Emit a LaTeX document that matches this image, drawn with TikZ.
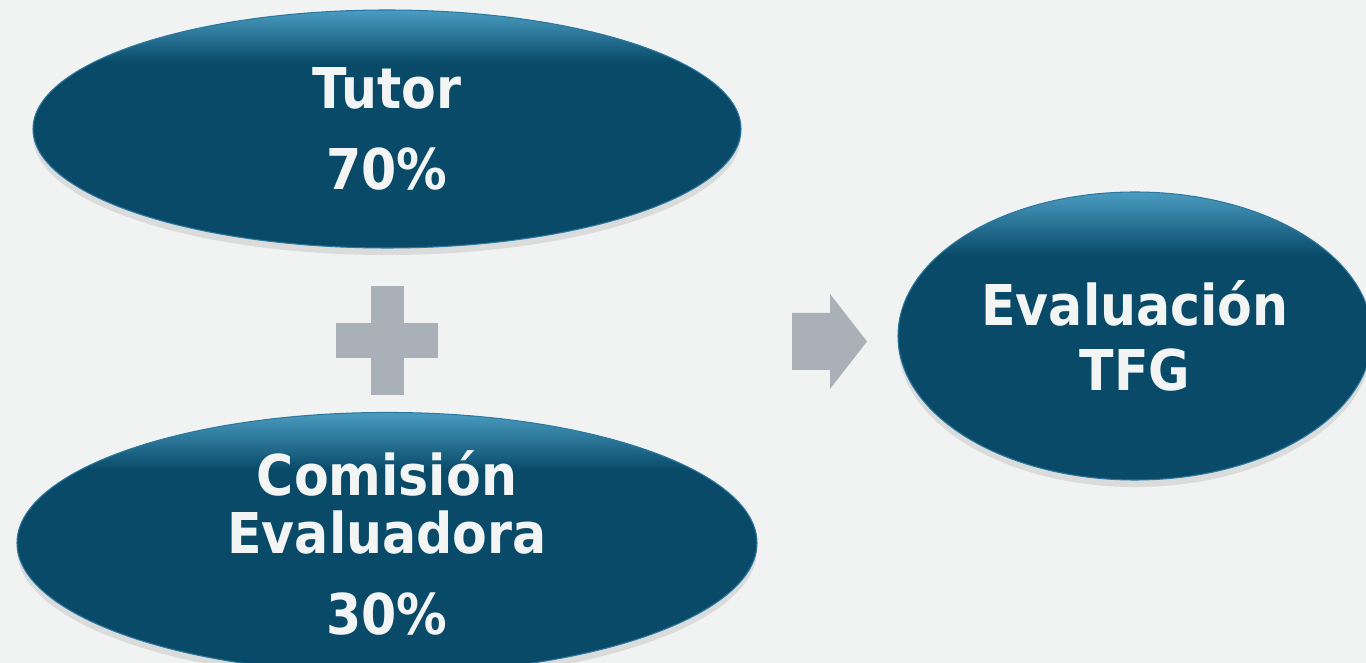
\documentclass[tikz,border=0pt]{standalone}
\usepackage{fontspec}
\setmainfont{DejaVu Sans Condensed}
\usetikzlibrary{shadows, shapes.geometric}

\definecolor{fondo}{HTML}{F1F3F2}
\definecolor{azuloscuro}{HTML}{084A68}
\definecolor{azulclaro}{HTML}{4A9CC1}
\definecolor{azulborde}{HTML}{2C77A0}
\definecolor{gris}{HTML}{AAB0B8}
\definecolor{textoclaro}{HTML}{F3F5F5}

% dark body with a light band along the top edge
\pgfdeclareverticalshading{brillo}{100bp}{color(0bp)=(azuloscuro); color(25bp)=(azuloscuro);
  color(64bp)=(azuloscuro); color(70bp)=(azulclaro!55!azuloscuro); color(75bp)=(azulclaro);
  color(100bp)=(azulclaro)}

\tikzset{
  ovalo/.style = {ellipse, inner sep = 0pt, shading = brillo, draw = azulborde,
                  line width = 0.6pt, text = textoclaro, align = center,
                  font = \bfseries\fontsize{32}{33}\selectfont,
                  drop shadow = {opacity = 0.2, shadow xshift = 0pt, shadow yshift = -4pt}},
  signo/.style = {fill = gris}
}

\begin{document}
\begin{tikzpicture}
            \clip (0.0, 0.0) rectangle (27.32, -13.26);
            \fill [fondo] (0.0, 0.0) rectangle (27.32, -13.26);

            \node [ovalo, minimum width = 14.16cm, minimum height = 4.76cm]
                  (tutor) at (7.74, -2.58) {Tutor\\[13pt]70\%};

            \node [ovalo, minimum width = 14.8cm, minimum height = 4.76cm]
                  (comision) at (7.74, -10.86) {Comisión\\Evaluadora\\[13pt]30\%};

            \node [ovalo, minimum width = 9.48cm, minimum height = 5.76cm]
                  (evaluacion) at (22.7, -6.72) {Evaluación\\[4pt]TFG};

            \coordinate (mas) at (7.74, -6.82);
            \coordinate (flecha) at (15.84, -6.83);

            \fill [signo] ([xshift = -0.33cm, yshift = 1.09cm] mas)
                  rectangle ([xshift = 0.33cm, yshift = -1.09cm] mas); % plus, vertical bar
            \fill [signo] ([xshift = -1.02cm, yshift = 0.35cm] mas)
                  rectangle ([xshift = 1.02cm, yshift = -0.35cm] mas); % plus, horizontal bar

            \fill [signo] ([yshift = 0.57cm] flecha) -- ++(0.76, 0.0) -- ++(0.0, 0.38)
                  -- ([xshift = 1.5cm] flecha) -- ([xshift = 0.76cm, yshift = -0.95cm] flecha)
                  -- ++(0.0, 0.38) -- ([yshift = -0.57cm] flecha) -- cycle; % arrow
        \end{tikzpicture}
\end{document}
